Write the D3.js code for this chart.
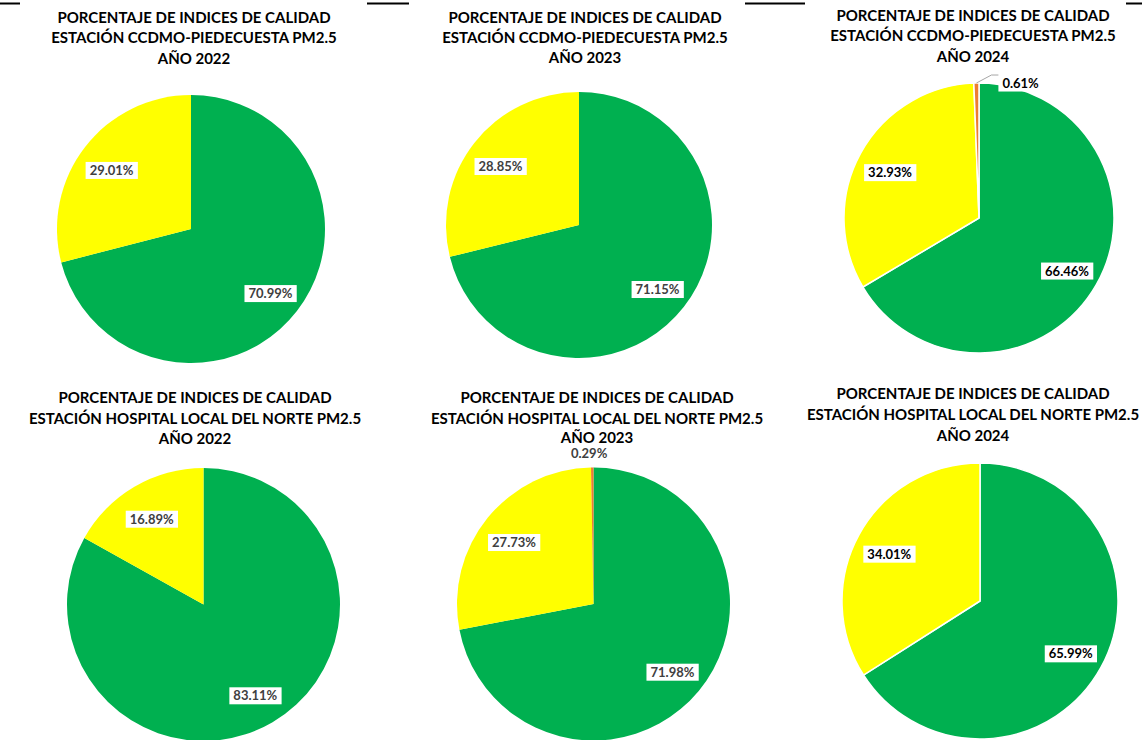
<!DOCTYPE html>
<html><head><meta charset="utf-8">
<script src="https://cdn.jsdelivr.net/npm/d3@7"></script>
<style>html,body{margin:0;padding:0;background:#fff;}svg{display:block;}</style>
</head><body>
<svg id="chart" width="1142" height="740"></svg>
<script>
// ---- data ----
const titleLine1 = "PORCENTAJE DE INDICES DE CALIDAD";
const stations = ["CCDMO-PIEDECUESTA", "HOSPITAL LOCAL DEL NORTE"];
const years = ["2022", "2023", "2024"];
const categories = ["Buena", "Aceptable", "Dañina a la salud de grupos sensibles"];
const buena     = [[70.99, 71.15, 66.46], [83.11, 71.98, 65.99]];
const aceptable = [[29.01, 28.85, 32.93], [16.89, 27.73, 34.01]];
const danina    = [[0, 0, 0.61], [0, 0.29, 0]];

// ---- layout / style ----
const colors = d3.scaleOrdinal().domain(categories).range(["#00B050", "#FFFF00", "#ED7D31"]);
const panels = [
  {cx:191,   cy:229,   r:134,   tx:194, ty:[17,37,58],    lab:"#404040", stroke:0},
  {cx:579,   cy:225,   r:133,   tx:585, ty:[17,37,57],    lab:"#404040", stroke:0},
  {cx:979,   cy:218,   r:135,   tx:973, ty:[15,35,56],    lab:"#000000", stroke:1.5},
  {cx:203.5, cy:604.5, r:136.5, tx:195, ty:[397,418,438], lab:"#404040", stroke:0},
  {cx:593.5, cy:604,   r:136.5, tx:597, ty:[397,418,437], lab:"#404040", stroke:0},
  {cx:980,   cy:601,   r:138,   tx:973, ty:[393,414,435], lab:"#000000", stroke:1.5}
];
const FONT = "Lato, 'Liberation Sans', Arial, sans-serif";

const svg = d3.select("#chart");

// table border fragments at the top
[[0,20],[367,409],[745,805],[1126,1142]].forEach(([a,b]) => {
  svg.append("line").attr("x1",a).attr("x2",b).attr("y1",3.5).attr("y2",3.5)
    .attr("stroke","#000").attr("stroke-width",2);
});

const pie = d3.pie().sort(null).value(d => d.value).startAngle(0).endAngle(2*Math.PI);

stations.forEach((st, si) => {
  years.forEach((yr, yi) => {
    const p = panels[si*3 + yi];
    const data = categories.map((c, ci) => ({cat:c, value:[buena, aceptable, danina][ci][si][yi]}));
    const g = svg.append("g").attr("transform", `translate(${p.cx},${p.cy})`);
    const arc = d3.arc().innerRadius(0).outerRadius(p.r);
    const arcs = pie(data);

    g.selectAll("path.slice").data(arcs.filter(d => d.data.value > 0)).join("path")
      .attr("class","slice")
      .attr("d", arc)
      .attr("fill", d => colors(d.data.cat))
      .attr("stroke", p.stroke ? "#fff" : "none")
      .attr("stroke-width", p.stroke);

    // labels
    arcs.filter(d => d.data.value > 0).forEach(d => {
      const mid = (d.startAngle + d.endAngle) / 2;
      const txt = d.data.value.toFixed(2) + "%";
      const small = d.data.value < 1;
      if (!small) {
        const rr = p.r * 0.75;
        const x = Math.sin(mid) * rr, y = -Math.cos(mid) * rr + 3;
        const t = g.append("text").attr("x", x).attr("y", y + 4.5)
          .attr("text-anchor","middle").attr("font-family",FONT).attr("font-weight","bold")
          .attr("font-size",13).attr("fill",p.lab).text(txt);
        const bb = t.node().getBBox();
        g.insert("rect", "text").attr("x", bb.x - 4).attr("y", y - 8.5)
          .attr("width", bb.width + 8).attr("height", 17).attr("fill","#fff");
      } else if (si === 0) {
        // leader-line label
        const x0 = Math.sin(mid) * p.r, y0 = -Math.cos(mid) * p.r;
        const x1 = x0 + 15, y1 = y0 - 8, x2 = x1 + 7;
        g.append("polyline").attr("points", `${x0},${y0} ${x1},${y1} ${x2},${y1}`)
          .attr("fill","none").attr("stroke","#A6A6A6").attr("stroke-width",1);
        const t = g.append("text").attr("x", x2 + 4).attr("y", y0 + 4.5)
          .attr("font-family",FONT).attr("font-weight","bold")
          .attr("font-size",13).attr("fill",p.lab).text(txt);
        const bb = t.node().getBBox();
        g.insert("rect", "polyline").attr("x", bb.x - 4).attr("y", y0 - 8.5)
          .attr("width", bb.width + 8).attr("height", 17).attr("fill","#fff");
      } else {
        const rr = p.r + 14;
        const x = Math.sin(mid) * rr - 3, y = -Math.cos(mid) * rr;
        g.append("text").attr("x", x).attr("y", y + 4.5)
          .attr("text-anchor","middle").attr("font-family",FONT).attr("font-weight","bold")
          .attr("font-size",13).attr("fill",p.lab).text(txt);
      }
    });

    // title
    const lines = [titleLine1, `ESTACIÓN ${st} PM2.5`, `AÑO ${yr}`];
    lines.forEach((ln, li) => {
      svg.append("text").attr("x", p.tx).attr("y", p.ty[li] + 5.5)
        .attr("text-anchor","middle").attr("font-family",FONT).attr("font-weight","bold")
        .attr("font-size",15).attr("fill","#000").text(ln);
    });
  });
});
</script>
</body></html>
